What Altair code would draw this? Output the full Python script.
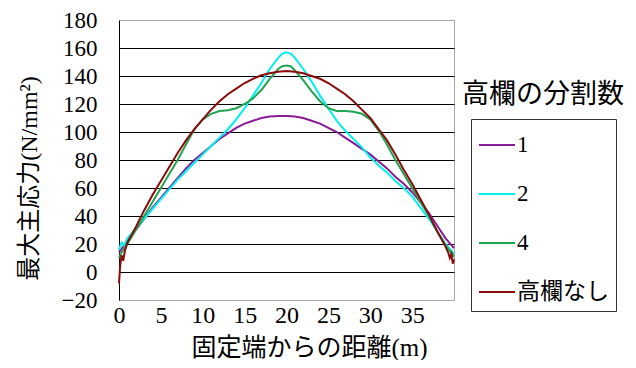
import altair as alt
import pandas as pd

# ---- data ----
x_s1 = list(range(0, 41))
y_s1 = [14, 22, 30, 38, 46, 53, 60, 67, 74, 80, 85, 90, 95, 99, 103, 106, 108, 110, 111, 111.5,
        111.5, 111, 110, 108, 106, 103, 100, 96, 92, 88, 84, 79, 74, 68, 63, 57, 50, 42, 33, 24, 17]

x_s2 = [0, 0.3, 0.6] + list(range(1, 20)) + [19.5, 20, 20.5] + list(range(21, 41))
y_s2 = [16, 21, 19,
        24, 31, 38, 45, 52, 59, 66, 72, 78, 84, 90, 96, 102, 109, 117, 126, 135, 145, 153,
        156, 157, 156,
        153, 145, 136, 126, 117, 108, 101, 95, 89, 82, 76, 71, 65, 60, 54, 46, 38, 29, 20, 13]

x_s4 = [0, 0.3] + list(range(1, 20)) + [19.5, 20, 20.5] + list(range(21, 41))
y_s4 = [10, 14,
        20, 30, 40, 50, 60, 70, 80, 91, 102, 109, 113, 115, 115.5, 117, 120, 124, 130, 138, 145,
        147, 147.5, 147,
        144, 137, 129, 122, 117, 115, 115, 114.5, 113, 109, 101, 91, 80, 70, 60, 50, 40, 29, 19, 11]

x_s0 = [0, 0.15, 0.3, 0.5, 0.7] + list(range(1, 40)) + [39.3, 39.5, 39.7, 39.85, 40]
y_s0 = [-8, 5, 12, 8, 15,
        21, 32, 44, 55, 65, 75, 85, 94, 102, 109, 116, 122, 127, 131, 135, 138, 140.5, 142, 143,
        143.5, 143, 142, 140, 138, 135, 131, 127, 122, 116, 110, 102, 94, 84, 73, 63, 52, 41, 29, 18,
        14, 10, 13, 6, 9]

series_names = ["1", "2", "4", "高欄なし"]
series_colors = ["#8a1a95", "#00f0f0", "#1fa452", "#8b0a0a"]
y_ticks = [-20, 0, 20, 40, 60, 80, 100, 120, 140, 160, 180]
x_ticks = [0, 5, 10, 15, 20, 25, 30, 35]
legend_title = "高欄の分割数"
x_title = "固定端からの距離(m)"
y_title = "最大主応力(N/mm²)"

rows = []
for name, xs, ys in [("1", x_s1, y_s1), ("2", x_s2, y_s2), ("4", x_s4, y_s4), ("高欄なし", x_s0, y_s0)]:
    assert len(xs) == len(ys), name
    for i, (a, b) in enumerate(zip(xs, ys)):
        rows.append({"series": name, "x": a, "y": b, "order": i})
df = pd.DataFrame(rows)

FONT = "'Liberation Serif', 'Times New Roman', 'Noto Sans CJK JP', serif"
CJK = "'Noto Sans CJK JP', sans-serif"

lines = alt.Chart(df).mark_line(strokeWidth=2).encode(
    x=alt.X("x:Q", scale=alt.Scale(domain=[0, 40], nice=False, zero=False),
            axis=alt.Axis(values=x_ticks, title=x_title, grid=False, domain=False, ticks=False,
                          labelFlush=False, labelPadding=3, labelFont=FONT, labelFontSize=24,
                          labelColor="black", titleFont=FONT, titleFontSize=25,
                          titleFontWeight="normal", titleColor="black",
                          titleX=190, titleY=47, titleBaseline="middle", titleAlign="center")),
    y=alt.Y("y:Q", scale=alt.Scale(domain=[-20, 180], nice=False, zero=False),
            axis=alt.Axis(values=y_ticks, title=y_title, grid=True,
                          gridColor={"condition": {"test": "datum.value == 180 || datum.value == -20",
                                                   "value": "#a6a6a6"}, "value": "black"},
                          gridWidth=1, domain=True, domainColor="black", domainWidth=1,
                          ticks=False, labelPadding=22, labelFlush=False, labelFont=FONT,
                          labelFontSize=23, labelColor="black", titleFont=FONT, titleFontSize=24,
                          titleFontWeight="normal", titleColor="black",
                          titleX=-90, titleY=158, titleBaseline="middle", titleAlign="center",
                          titleAngle=270)),
    color=alt.Color("series:N", scale=alt.Scale(domain=series_names, range=series_colors),
                    legend=alt.Legend(title=None, orient="none", legendX=352, legendY=99,
                                      strokeColor="#333333", fillColor="white", padding=7,
                                      symbolType="stroke", symbolSize=1296, symbolStrokeWidth=2,
                                      labelFont=FONT, labelFontSize=23, labelColor="black",
                                      labelOffset=1, rowPadding=18)),
    order="order:Q",
)

title_df = pd.DataFrame({"t": [legend_title]})
title_text = alt.Chart(title_df).mark_text(
    align="left", baseline="middle", font=CJK, fontSize=27, color="black"
).encode(x=alt.value(343), y=alt.value(75), text="t:N")

chart = alt.layer(lines, title_text).properties(
    width=335, height=280,
    padding={"left": 111, "top": 12, "right": 174, "bottom": 60},
    autosize=alt.AutoSizeParams(type="none"),
).configure_view(stroke="#a6a6a6", strokeWidth=1)

chart.save("out.html", embed_options={"renderer": "svg", "actions": False})
